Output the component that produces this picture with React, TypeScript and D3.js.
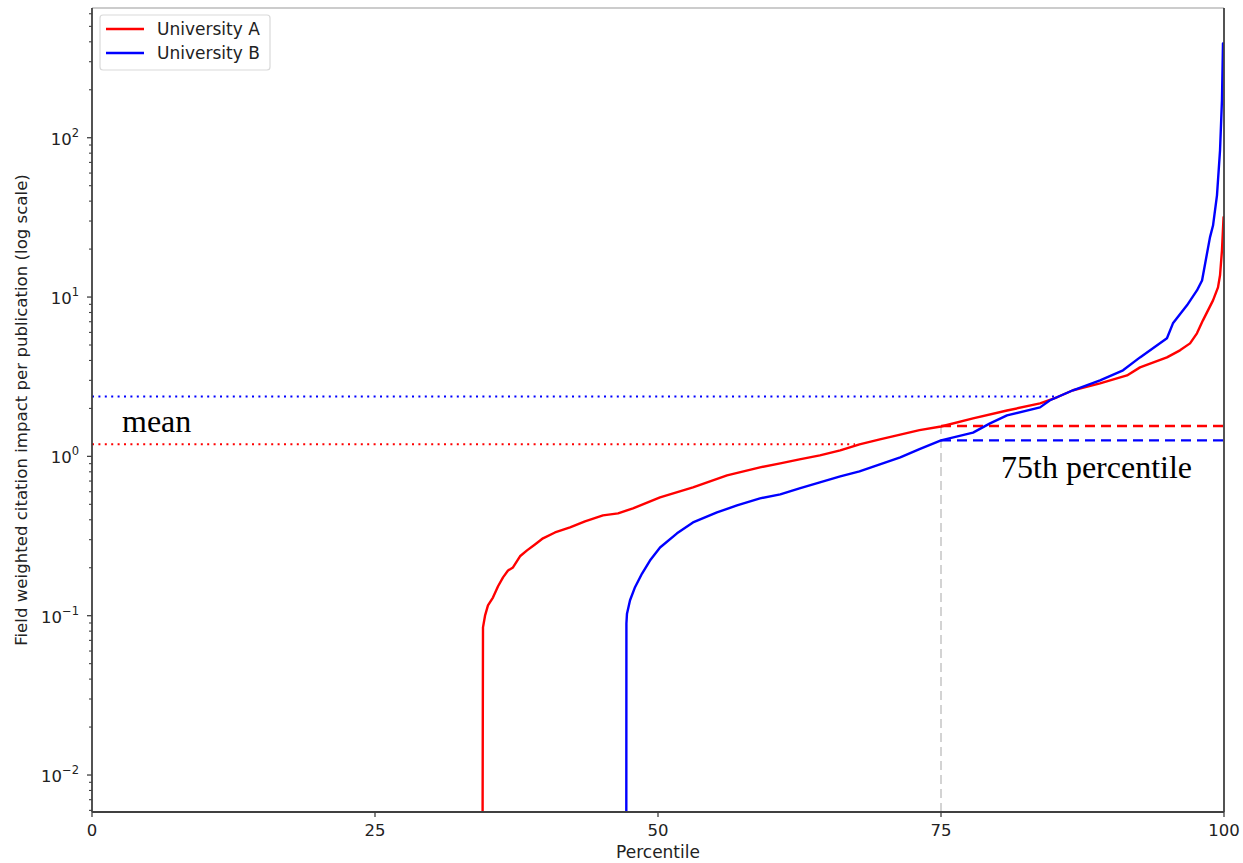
import React from "react";
import * as d3 from "d3";

const W = 1243;
const H = 863;

// University A: percentile vs field weighted citation impact
const pctA = [34.5, 34.54, 34.72, 34.98, 35.42, 35.87, 36.31, 36.75, 37.19, 37.81, 38.43, 39.13, 39.84, 40.9, 42.23, 43.55, 45.14, 46.47, 47.79, 50.18, 53.09, 56.1, 59.01, 60.8, 62.5, 64.3, 66.1, 67.8, 69.6, 71.4, 73.1, 75.0, 77.83, 80.83, 83.75, 85.25, 86.66, 89.05, 91.43, 92.58, 94.96, 96.11, 97.0, 97.61, 98.14, 99.03, 99.47, 99.65, 99.82, 99.96, 100];
const valA = [0.004, 0.0845, 0.1, 0.116, 0.13, 0.153, 0.174, 0.192, 0.201, 0.236, 0.257, 0.28, 0.306, 0.333, 0.358, 0.391, 0.426, 0.439, 0.472, 0.553, 0.639, 0.76, 0.853, 0.904, 0.958, 1.014, 1.09, 1.19, 1.28, 1.37, 1.46, 1.54, 1.73, 1.94, 2.15, 2.35, 2.6, 2.87, 3.22, 3.62, 4.18, 4.63, 5.12, 5.92, 7.14, 9.53, 11.5, 13.7, 19.6, 31.7, 31.7];

// University B
const pctB = [47.2, 47.21, 47.26, 47.53, 47.97, 48.59, 49.29, 50.18, 51.68, 53.09, 55.21, 56.98, 59.01, 60.8, 62.5, 64.3, 66.1, 67.8, 69.6, 71.4, 73.1, 75.0, 77.83, 79.33, 80.83, 83.75, 84.63, 86.66, 89.05, 91.08, 92.58, 94.96, 95.49, 96.73, 97.61, 98.06, 98.76, 99.03, 99.38, 99.65, 99.82, 99.91, 100];
const valB = [0.004, 0.0895, 0.103, 0.125, 0.151, 0.184, 0.222, 0.268, 0.329, 0.385, 0.445, 0.492, 0.545, 0.577, 0.63, 0.687, 0.749, 0.805, 0.891, 0.986, 1.11, 1.26, 1.41, 1.61, 1.81, 2.03, 2.25, 2.6, 3.0, 3.47, 4.18, 5.51, 6.84, 8.87, 11.0, 12.7, 23.7, 28.1, 43.5, 83.4, 172, 391, 391];

const meanA = 1.19;
const meanB = 2.38;
const meanEndA = 67.4;
const meanEndB = 85.0;
const p75 = 75;
const p75A = 1.55;
const p75B = 1.26;

const xTicks = [0, 25, 50, 75, 100];
const yExps = [-2, -1, 0, 1, 2];

const seriesNames = ["University A", "University B"];
const colors = ["#ff0000", "#0000ff"];

const left = 92;
const right = 1224;
const top = 8;
const bottom = 812;
const yMin = 0.00586;
const yMax = 652;

export default function App() {
  const x = d3.scaleLinear().domain([0, 100]).range([left, right]);
  const y = d3.scaleLog().domain([yMin, yMax]).range([bottom, top]);

  const line = d3
    .line<[number, number]>()
    .x((d) => x(d[0]))
    .y((d) => y(d[1]));

  const dataA: [number, number][] = pctA.map((p, i) => [p, valA[i]]);
  const dataB: [number, number][] = pctB.map((p, i) => [p, valB[i]]);

  const minorTicks: number[] = [];
  for (let e = -3; e <= 2; e++) {
    for (let m = 2; m <= 9; m++) {
      const v = m * Math.pow(10, e);
      if (v >= yMin && v <= yMax) minorTicks.push(v);
    }
  }

  const font = "DejaVu Sans, sans-serif";
  const axisColor = "#404040";
  const serif = "Liberation Serif, Times New Roman, serif";

  return (
    <svg width={W} height={H} style={{ position: "absolute", left: 0, top: 0 }} fontFamily={font}>
      <defs>
        <clipPath id="plot">
          <rect x={left} y={top} width={right - left} height={bottom - top} />
        </clipPath>
      </defs>
      <rect x={0} y={0} width={W} height={H} fill="#fff" />

      <g clipPath="url(#plot)">
        {/* mean lines */}
        <line x1={x(0)} x2={x(meanEndB)} y1={y(meanB)} y2={y(meanB)} stroke="#0000ff" strokeWidth={2} strokeDasharray="2,4.4" />
        <line x1={x(0)} x2={x(meanEndA)} y1={y(meanA)} y2={y(meanA)} stroke="#ff0000" strokeWidth={2} strokeDasharray="2,4.4" />
        {/* 75th percentile */}
        <line x1={x(p75)} x2={x(p75)} y1={y(yMin)} y2={y(p75A)} stroke="#d3d3d3" strokeWidth={2} strokeDasharray="9,5" />
        <line x1={x(p75)} x2={x(100)} y1={y(p75A)} y2={y(p75A)} stroke="#ff0000" strokeWidth={2.4} strokeDasharray="10,6" />
        <line x1={x(p75)} x2={x(100)} y1={y(p75B)} y2={y(p75B)} stroke="#0000ff" strokeWidth={2.4} strokeDasharray="10,6" />
        {/* curves */}
        <path d={line(dataA) || ""} fill="none" stroke={colors[0]} strokeWidth={2.4} strokeLinejoin="round" />
        <path d={line(dataB) || ""} fill="none" stroke={colors[1]} strokeWidth={2.4} strokeLinejoin="round" />
      </g>

      {/* frame */}
      <line x1={left} x2={right} y1={top} y2={top} stroke="#999" strokeWidth={1.2} />
      <line x1={left} x2={left} y1={top} y2={bottom} stroke={axisColor} strokeWidth={1.8} />
      <line x1={right} x2={right} y1={top} y2={bottom} stroke={axisColor} strokeWidth={1.8} />
      <line x1={left} x2={right} y1={bottom} y2={bottom} stroke={axisColor} strokeWidth={1.8} />

      {/* x ticks */}
      {xTicks.map((t) => (
        <g key={"x" + t}>
          <line x1={x(t)} x2={x(t)} y1={bottom} y2={bottom + 5} stroke={axisColor} strokeWidth={1.3} />
          <text x={x(t)} y={bottom + 24} textAnchor="middle" fontSize={16.5} fill="#222">
            {t}
          </text>
        </g>
      ))}
      <text x={(left + right) / 2} y={858} textAnchor="middle" fontSize={17} fill="#222">
        Percentile
      </text>

      {/* y ticks */}
      {minorTicks.map((v, i) => (
        <line key={"m" + i} x1={left - 3} x2={left} y1={y(v)} y2={y(v)} stroke={axisColor} strokeWidth={1.1} />
      ))}
      {yExps.map((e) => (
        <g key={"y" + e}>
          <line x1={left - 5} x2={left} y1={y(Math.pow(10, e))} y2={y(Math.pow(10, e))} stroke={axisColor} strokeWidth={1.3} />
          <text x={left - 13} y={y(Math.pow(10, e)) + 7} textAnchor="end" fontSize={16.5} fill="#222">
            10
            <tspan dy={-8} fontSize={11.5}>
              {e < 0 ? "\u2212" + Math.abs(e) : String(e)}
            </tspan>
          </text>
        </g>
      ))}
      <text
        transform={`translate(27,${(top + bottom) / 2}) rotate(-90)`}
        textAnchor="middle"
        fontSize={16.6}
        fill="#222"
      >
        Field weighted citation impact per publication (log scale)
      </text>

      {/* annotations */}
      <text x={122} y={432} fontFamily={serif} fontSize={32} fill="#000">
        mean
      </text>
      <text x={1001} y={478} fontFamily={serif} fontSize={32} fill="#000">
        75th percentile
      </text>

      {/* legend */}
      <rect x={100} y={15} width={170} height={55} rx={3} fill="#fff" fillOpacity={0.8} stroke="#d9d9d9" strokeWidth={1.2} />
      {seriesNames.map((n, i) => (
        <g key={n}>
          <line x1={106} x2={144} y1={29 + i * 24} y2={29 + i * 24} stroke={colors[i]} strokeWidth={2.4} />
          <text x={157} y={35 + i * 24} fontSize={17} fill="#222">
            {n}
          </text>
        </g>
      ))}
    </svg>
  );
}
